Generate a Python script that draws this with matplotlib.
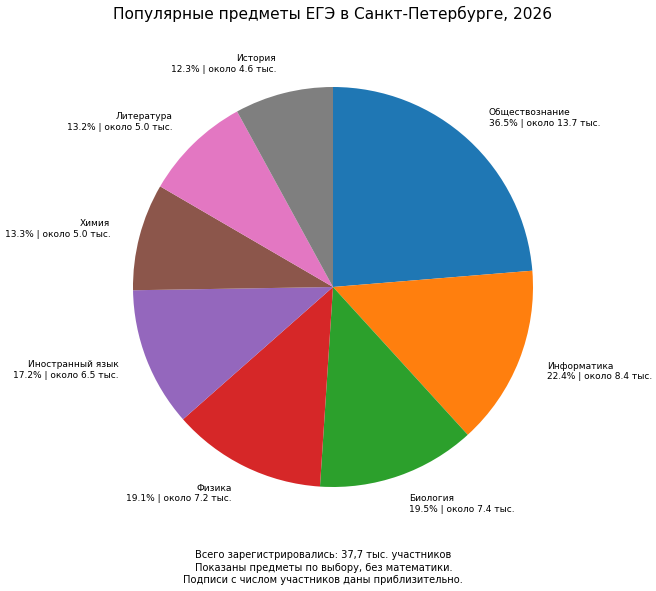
import matplotlib.pyplot as plt

subjects = ["Обществознание", "Информатика", "Биология", "Физика",
            "Иностранный язык", "Химия", "Литература", "История"]
shares = [36.5, 22.4, 19.5, 19.1, 17.2, 13.3, 13.2, 12.3]
counts = [13.7, 8.4, 7.4, 7.2, 6.5, 5.0, 5.0, 4.6]

labels = [f"{s}\n{p}% | около {c} тыс." for s, p, c in zip(subjects, shares, counts)]

fig = plt.figure(figsize=(6.56, 5.91), dpi=100)
ax = fig.add_axes([133 / 656, 104 / 591, 400 / 656, 400 / 591])

wedges, texts = ax.pie(counts, labels=labels, startangle=90, counterclock=False,
                       labeldistance=1.15, textprops={"fontsize": 6.5})
ax.set_xlim(-1, 1)
ax.set_ylim(-1, 1)
ax.set_aspect("equal")

fig.suptitle("Популярные предметы ЕГЭ в Санкт-Петербурге, 2026", fontsize=11.1,
             x=0.507, y=0.99)
fig.text(0.493, 0.01,
         "Всего зарегистрировались: 37,7 тыс. участников\n"
         "Показаны предметы по выбору, без математики.\n"
         "Подписи с числом участников даны приблизительно.",
         ha="center", va="bottom", fontsize=7.1, linespacing=1.3)

plt.savefig("out.png", dpi=100)
